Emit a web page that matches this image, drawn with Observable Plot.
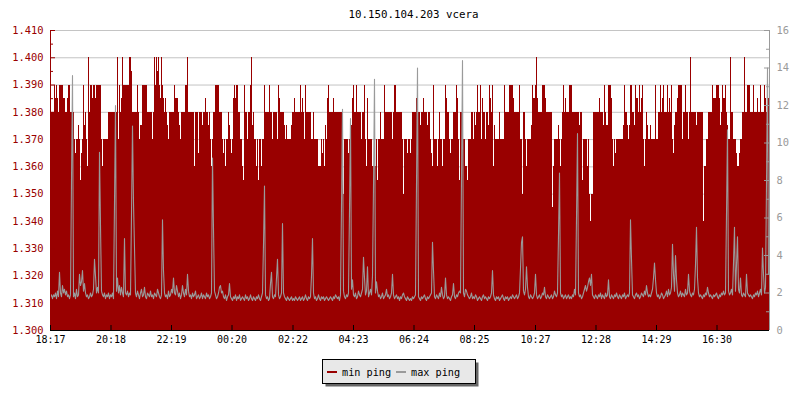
<!DOCTYPE html>
<html><head><meta charset="utf-8">
<script src="https://cdn.jsdelivr.net/npm/d3@7"></script>
<script src="https://cdn.jsdelivr.net/npm/@observablehq/plot@0.6"></script>
<style>
body{margin:0;background:#fff;}
#wrap{position:relative;width:800px;height:400px;overflow:hidden;background:#fff;}
#wrap svg{position:absolute;left:0;top:0;}
</style></head><body><div id="wrap"></div>
<script>
const title = "10.150.104.203 vcera";
const seriesNames = ["min ping", "max ping"];
const startTime = "18:17";
const stepMinutes = 2;
const timeTickLabels = ["18:17","20:18","22:19","00:20","02:22","04:23","06:24","08:25","10:27","12:28","14:29","16:30"];
const leftTickValues = [1.300,1.310,1.320,1.330,1.340,1.350,1.360,1.370,1.380,1.390,1.400,1.410];
const rightTickValues = [0,2,4,6,8,10,12,14,16];

// min ping (left axis), one value per 2 minutes
const minPing = [
1.38,1.38,1.38,1.38,1.39,1.385,1.39,1.385,1.38,1.39,1.39,1.39,1.39,1.385,1.385,1.38,1.38,1.385,1.39,1.39,
1.38,1.38,1.38,1.38,1.37,1.365,1.37,1.37,1.375,1.37,1.355,1.365,1.37,1.39,1.375,1.38,1.37,1.36,1.40,1.38,
1.39,1.39,1.385,1.39,1.39,1.385,1.39,1.39,1.39,1.39,1.39,1.37,1.36,1.37,1.37,1.37,1.37,1.37,1.38,1.38,
1.38,1.38,1.38,1.38,1.38,1.38,1.38,1.40,1.37,1.39,1.38,1.385,1.40,1.39,1.39,1.39,1.39,1.39,1.39,1.40,
1.40,1.395,1.38,1.38,1.38,1.38,1.38,1.39,1.38,1.37,1.375,1.375,1.39,1.39,1.39,1.39,1.39,1.38,1.38,1.38,
1.38,1.38,1.37,1.38,1.40,1.39,1.40,1.395,1.40,1.39,1.385,1.40,1.39,1.385,1.38,1.385,1.38,1.375,1.37,1.38,
1.38,1.38,1.38,1.38,1.39,1.385,1.385,1.385,1.38,1.375,1.37,1.38,1.38,1.38,1.38,1.39,1.39,1.40,1.38,1.38,
1.38,1.38,1.38,1.38,1.36,1.38,1.38,1.38,1.365,1.38,1.38,1.38,1.375,1.38,1.38,1.385,1.38,1.38,1.375,1.38,
1.37,1.36,1.37,1.38,1.38,1.39,1.39,1.39,1.39,1.38,1.38,1.38,1.37,1.365,1.37,1.36,1.37,1.37,1.38,1.375,
1.37,1.365,1.37,1.385,1.39,1.385,1.39,1.39,1.38,1.38,1.37,1.37,1.36,1.355,1.39,1.38,1.38,1.37,1.38,1.38,
1.39,1.40,1.375,1.38,1.37,1.37,1.36,1.37,1.355,1.37,1.37,1.36,1.37,1.37,1.39,1.38,1.38,1.38,1.38,1.39,
1.38,1.38,1.37,1.38,1.38,1.38,1.38,1.37,1.39,1.385,1.38,1.38,1.38,1.38,1.375,1.37,1.375,1.37,1.37,1.37,
1.37,1.375,1.38,1.38,1.385,1.38,1.38,1.38,1.38,1.38,1.39,1.38,1.385,1.38,1.37,1.39,1.38,1.38,1.38,1.38,
1.38,1.37,1.37,1.38,1.37,1.37,1.37,1.37,1.36,1.36,1.36,1.37,1.365,1.37,1.36,1.375,1.37,1.385,1.39,1.38,
1.38,1.38,1.38,1.385,1.38,1.38,1.38,1.38,1.38,1.38,1.38,1.38,1.37,1.35,1.37,1.37,1.37,1.37,1.365,1.37,
1.37,1.375,1.385,1.39,1.38,1.38,1.39,1.38,1.38,1.38,1.38,1.37,1.38,1.38,1.39,1.37,1.36,1.385,1.37,1.37,
1.37,1.37,1.36,1.36,1.36,1.36,1.37,1.355,1.37,1.37,1.38,1.37,1.37,1.37,1.39,1.38,1.38,1.38,1.38,1.38,
1.38,1.38,1.37,1.38,1.39,1.39,1.38,1.38,1.38,1.38,1.38,1.38,1.37,1.35,1.37,1.37,1.37,1.365,1.37,1.37,
1.365,1.37,1.38,1.38,1.38,1.38,1.385,1.38,1.38,1.38,1.375,1.38,1.38,1.385,1.38,1.38,1.38,1.375,1.38,1.38,
1.37,1.365,1.36,1.39,1.37,1.37,1.37,1.36,1.37,1.38,1.37,1.37,1.36,1.37,1.37,1.39,1.385,1.38,1.38,1.37,
1.365,1.37,1.37,1.38,1.38,1.38,1.39,1.385,1.37,1.355,1.38,1.38,1.37,1.37,1.37,1.36,1.36,1.355,1.37,1.37,
1.37,1.38,1.38,1.37,1.38,1.375,1.38,1.39,1.38,1.38,1.39,1.37,1.385,1.38,1.38,1.37,1.38,1.38,1.375,1.39,
1.385,1.38,1.39,1.36,1.375,1.37,1.37,1.37,1.37,1.38,1.37,1.37,1.37,1.37,1.39,1.38,1.38,1.38,1.38,1.39,
1.39,1.39,1.39,1.385,1.38,1.38,1.38,1.38,1.38,1.39,1.37,1.37,1.35,1.38,1.38,1.37,1.36,1.37,1.37,1.37,
1.37,1.375,1.39,1.385,1.385,1.39,1.40,1.385,1.38,1.38,1.38,1.38,1.39,1.39,1.39,1.385,1.38,1.38,1.38,1.38,
1.38,1.38,1.345,1.36,1.37,1.37,1.37,1.37,1.375,1.37,1.36,1.37,1.38,1.39,1.38,1.385,1.38,1.38,1.38,1.39,
1.39,1.39,1.38,1.38,1.38,1.38,1.38,1.38,1.38,1.375,1.38,1.38,1.355,1.37,1.37,1.37,1.37,1.36,1.37,1.35,
1.34,1.35,1.35,1.38,1.38,1.38,1.38,1.38,1.38,1.385,1.38,1.38,1.38,1.375,1.39,1.38,1.375,1.375,1.39,1.39,
1.39,1.385,1.37,1.36,1.37,1.365,1.37,1.37,1.37,1.37,1.37,1.37,1.37,1.375,1.39,1.38,1.38,1.375,1.37,1.375,
1.39,1.39,1.38,1.38,1.375,1.39,1.385,1.385,1.38,1.39,1.38,1.385,1.39,1.37,1.36,1.37,1.38,1.375,1.37,1.37,
1.375,1.37,1.37,1.37,1.37,1.39,1.37,1.37,1.38,1.38,1.39,1.38,1.385,1.39,1.38,1.38,1.38,1.39,1.38,1.385,
1.38,1.39,1.37,1.365,1.375,1.38,1.38,1.385,1.39,1.39,1.39,1.39,1.37,1.38,1.38,1.39,1.38,1.38,1.37,1.38,
1.40,1.38,1.38,1.38,1.38,1.38,1.375,1.38,1.38,1.38,1.38,1.38,1.38,1.34,1.36,1.36,1.37,1.37,1.38,1.38,
1.38,1.38,1.39,1.385,1.385,1.385,1.39,1.39,1.39,1.385,1.375,1.38,1.39,1.385,1.385,1.39,1.38,1.375,1.37,1.37,
1.40,1.38,1.38,1.37,1.37,1.37,1.365,1.36,1.36,1.365,1.37,1.37,1.38,1.38,1.40,1.38,1.38,1.39,1.39,1.39,
1.38,1.38,1.38,1.39,1.38,1.38,1.38,1.385,1.38,1.38,1.39,1.38,1.38,1.38,1.39,1.385,1.38,1.38,1.385
];

// max ping (right axis), one value per 2 minutes
const maxPing = [
1.8,1.9,1.7,1.9,1.8,2.0,1.7,2.1,1.8,3.1,2.0,1.8,2.4,2.0,2.2,1.9,2.1,1.8,1.9,1.7,
1.9,8.0,13.6,1.8,2.0,1.7,2.2,1.8,1.9,3.0,2.4,2.6,3.2,2.1,2.5,2.0,1.8,1.9,1.7,1.8,
2.0,1.8,1.9,2.2,3.8,2.9,2.0,2.3,2.0,9.5,5.6,2.1,1.9,1.8,2.0,1.7,1.9,1.8,2.0,1.7,
1.9,1.8,2.0,1.7,6.8,12.0,2.1,2.8,2.0,2.4,1.9,2.3,2.0,1.8,4.9,2.0,1.9,2.1,1.8,2.0,
1.9,6.2,10.9,6.8,4.4,2.0,1.8,2.1,1.9,1.7,2.0,2.2,1.8,1.9,2.3,1.8,1.7,2.0,1.9,1.8,
2.1,1.8,1.9,1.7,2.0,1.9,1.8,2.2,2.0,1.8,1.7,1.9,5.9,3.2,2.0,1.8,1.9,1.7,2.1,1.8,
1.9,2.2,2.0,2.8,2.0,1.9,2.4,2.1,1.8,2.0,1.7,1.9,2.4,2.0,1.8,2.2,1.9,3.0,2.1,1.8,
1.9,1.7,2.0,1.8,1.9,2.1,1.7,1.8,1.9,1.7,1.8,2.0,1.7,1.9,1.8,1.7,2.0,1.8,1.9,1.7,
1.8,2.0,9.2,5.4,2.1,1.9,1.7,1.8,2.0,2.3,2.4,2.0,2.1,1.8,1.7,1.9,1.6,1.8,1.9,2.5,
1.8,1.7,1.6,1.8,1.7,1.9,1.6,1.8,1.7,1.9,1.6,1.7,1.8,1.7,1.6,1.9,1.7,1.8,1.6,1.7,
1.9,1.7,1.6,1.8,1.7,1.6,1.8,1.7,1.9,1.7,1.6,1.8,2.0,4.6,7.7,1.9,1.7,1.8,1.6,1.7,
2.5,3.1,1.8,1.7,1.9,1.8,2.8,3.8,1.9,1.7,1.8,2.0,5.7,2.0,1.8,1.7,1.6,1.8,1.7,1.6,
1.7,1.8,1.6,1.7,1.6,1.8,1.7,1.6,1.7,1.8,1.6,1.7,1.8,1.6,1.7,1.9,1.7,1.6,1.8,1.7,
1.8,2.9,4.9,2.0,1.7,1.8,1.6,1.7,1.9,1.7,1.6,1.8,1.7,1.8,1.6,1.7,1.8,1.7,1.6,1.7,
1.8,1.7,1.6,1.8,1.7,1.9,1.8,1.7,1.8,1.6,1.9,6.7,11.8,2.1,1.8,1.7,1.9,1.8,2.0,6.4,
11.3,2.2,2.7,1.9,1.8,2.0,1.7,1.8,2.1,1.9,1.8,2.0,2.2,3.9,2.8,1.9,2.1,3.4,1.8,2.0,
2.2,1.9,2.9,7.7,13.4,2.0,2.6,2.1,1.8,1.9,1.7,1.8,2.0,1.7,1.8,1.9,2.2,1.8,1.9,1.7,
1.8,2.0,3.0,1.9,1.7,1.8,1.9,1.7,1.8,1.6,1.8,1.7,1.9,2.0,1.8,1.7,1.6,1.8,1.7,1.6,
1.7,1.6,1.8,1.7,1.8,1.9,7.8,14.0,1.8,1.7,1.6,1.8,1.7,1.8,1.9,1.7,1.6,1.8,1.7,1.8,
1.9,2.0,4.7,3.2,1.8,1.7,1.9,1.8,1.7,2.0,1.8,2.3,1.9,1.7,1.8,2.8,1.9,1.7,1.8,1.7,
1.6,1.8,1.9,2.5,1.8,1.7,1.9,1.8,2.0,2.1,2.0,8.1,14.4,2.0,1.8,2.2,2.1,1.9,1.8,1.7,
1.8,2.0,1.7,1.8,1.7,1.9,1.8,1.6,1.7,1.8,1.7,1.6,1.8,1.9,1.7,1.8,1.7,1.6,1.8,1.7,
1.8,2.0,3.2,1.9,1.7,1.6,1.8,1.7,1.8,1.6,1.7,1.8,1.9,1.7,1.6,1.8,1.7,1.8,1.6,1.7,
1.8,1.7,1.9,1.8,1.7,1.8,1.9,1.7,1.8,2.0,3.3,4.7,5.0,2.1,1.9,2.2,3.4,2.3,1.8,1.7,
1.9,1.8,1.7,1.8,2.0,3.0,1.9,1.7,1.8,1.9,1.7,1.8,2.0,1.9,2.3,1.8,1.7,1.9,1.8,1.7,
1.8,1.9,1.7,1.8,2.1,1.9,1.8,2.0,5.1,8.4,2.0,1.8,1.9,1.7,1.8,1.9,1.7,1.8,1.9,1.7,
1.8,1.7,1.9,1.8,2.2,1.9,6.0,10.5,2.0,1.8,1.9,1.7,1.8,2.0,2.2,2.4,2.1,2.3,2.6,2.8,
2.4,3.0,1.9,1.8,1.7,1.9,1.8,1.7,1.9,1.8,2.0,1.7,1.9,1.8,1.7,2.0,1.8,1.9,2.7,1.8,
1.7,1.9,1.8,1.7,1.9,1.8,2.0,1.8,1.7,1.9,1.8,1.7,1.9,1.8,2.0,1.7,1.8,1.9,1.8,2.0,
5.9,3.8,1.9,1.8,1.7,1.9,2.0,1.8,1.9,1.7,1.8,2.0,1.9,1.8,2.1,1.9,2.4,2.0,1.8,1.9,
1.8,2.0,2.2,2.8,3.6,2.7,2.0,1.8,1.9,1.7,1.8,2.0,1.9,1.7,1.8,1.9,2.1,1.8,2.2,1.9,
2.0,2.3,4.6,3.0,2.1,4.0,2.7,2.0,1.8,1.9,2.1,1.8,2.0,1.9,1.8,2.2,1.9,2.0,3.0,2.1,
1.9,1.8,2.0,1.9,2.2,3.5,5.5,2.8,2.0,1.8,1.9,1.8,1.7,1.9,1.8,2.0,1.9,2.3,2.0,1.8,
1.9,1.8,1.7,1.9,1.8,1.9,2.0,1.8,1.7,1.9,1.8,2.0,1.9,2.1,1.9,2.0,6.2,10.7,2.1,1.9,
2.0,2.2,1.9,3.6,5.5,2.1,3.5,5.0,2.2,2.0,2.8,1.9,1.8,2.0,1.9,1.8,3.0,2.0,1.9,1.8,
1.9,1.8,1.7,1.9,1.8,2.0,1.9,2.1,1.8,2.0,2.2,1.9,4.4,3.0,2.0,2.3,7.8,14.0,3.0
];

const seriesColors = ["#990000", "#9a9a9a"];
const RED = seriesColors[0], GRAY = seriesColors[1], GRID = "#c4c4c4";

const toMin = s => { const [h, m] = s.split(":").map(Number); return h * 60 + m; };
const t0 = toMin(startTime);
const tickMinutes = timeTickLabels.map(s => (toMin(s) - t0 + 1440) % 1440);
const n = minPing.length;
const tEnd = n * stepMinutes;
const data = minPing.map((v, i) => ({t: i * stepMinutes, min: v, max: maxPing[i]}));
const stepData = [...data, {t: tEnd, min: minPing[n - 1], max: maxPing[n - 1]}];
const yLo = leftTickValues[0], yHi = leftTickValues[leftTickValues.length - 1];
const rightMax = rightTickValues[rightTickValues.length - 1];
const toLeft = v => yLo + v * (yHi - yLo) / rightMax;
const leftMinor = leftTickValues.slice(1).map((v, i) => (v + leftTickValues[i]) / 2);
const rightMinor = rightTickValues.slice(1).map((v, i) => (v + rightTickValues[i]) / 2);
const fmt = d3.format(".3f");

const W = 800, H = 400, ML = 50, MR = 31, MT = 30, MB = 70;
const frameW = W - ML - MR;
const FONT = "'DejaVu Sans Mono', monospace";

const chart = Plot.plot({
  width: W, height: H,
  marginLeft: ML, marginRight: MR, marginTop: MT, marginBottom: MB,
  style: {fontFamily: FONT, fontSize: "10.4px", background: "white", color: "black"},
  x: {domain: [0, tEnd], axis: null},
  y: {domain: [yLo, yHi], axis: null},
  marks: [
    Plot.ruleY(leftTickValues, {y: d => d, stroke: GRID, strokeWidth: 1}),
    Plot.areaY(stepData, {x: "t", y1: yLo, y2: "min", curve: "step-after", fill: RED, shapeRendering: "crispEdges"}),
    Plot.line(stepData, {x: "t", y: d => toLeft(d.max), curve: "linear", stroke: GRAY, strokeWidth: 1.1}),
    // left axis
    Plot.ruleX([0], {x: d => d, stroke: RED}),
    Plot.tickY(leftTickValues, {y: d => d, insetRight: frameW - 5, stroke: RED}),
    Plot.tickY(leftMinor, {y: d => d, insetRight: frameW - 3, stroke: RED}),
    Plot.text(leftTickValues, {y: d => d, text: d => fmt(d), frameAnchor: "left", textAnchor: "end", dx: -7, fill: RED}),
    // right axis
    Plot.ruleX([tEnd], {x: d => d, stroke: GRAY}),
    Plot.tickY(rightTickValues, {y: d => toLeft(d), insetLeft: frameW - 5, stroke: GRAY}),
    Plot.tickY(rightMinor, {y: d => toLeft(d), insetLeft: frameW - 3, stroke: GRAY}),
    Plot.text(rightTickValues, {y: d => toLeft(d), text: d => String(d), frameAnchor: "right", textAnchor: "start", dx: 7, fill: GRAY}),
    // bottom axis
    Plot.ruleY([yLo], {y: d => d, stroke: "black"}),
    Plot.tickX(tickMinutes, {x: d => d, insetTop: (H - MT - MB) - 5, stroke: "black"}),
    Plot.text(timeTickLabels, {x: (d, i) => tickMinutes[i], text: d => d, frameAnchor: "bottom", dy: 12.6, fontSize: 10, fill: "black"})
  ]
});
const wrap = document.getElementById("wrap");
wrap.appendChild(chart);

// title and legend overlay
const ov = d3.select("#wrap").append("svg")
  .attr("width", W).attr("height", H)
  .style("font-family", FONT)
  .style("pointer-events", "none");
ov.append("text").attr("x", 413.5).attr("y", 17.5).attr("text-anchor", "middle")
  .attr("font-size", "10.8px").attr("fill", "black").text(title);
const lx = 322.5, ly = 359.5, lw = 153, lh = 24;
ov.append("rect").attr("x", lx + 3).attr("y", ly + 3).attr("width", lw).attr("height", lh).attr("fill", "#666");
ov.append("rect").attr("x", lx).attr("y", ly).attr("width", lw).attr("height", lh).attr("fill", "#e8e8e8").attr("stroke", "#000").attr("stroke-width", 1);
const itemX = [327, 396];
seriesNames.forEach((name, i) => {
  ov.append("rect").attr("x", itemX[i]).attr("y", 371).attr("width", 10).attr("height", 2).attr("fill", seriesColors[i]);
  ov.append("text").attr("x", itemX[i] + 15).attr("y", 375.5).attr("font-size", "10.2px").attr("fill", "black").text(name);
});
</script>
</body></html>
